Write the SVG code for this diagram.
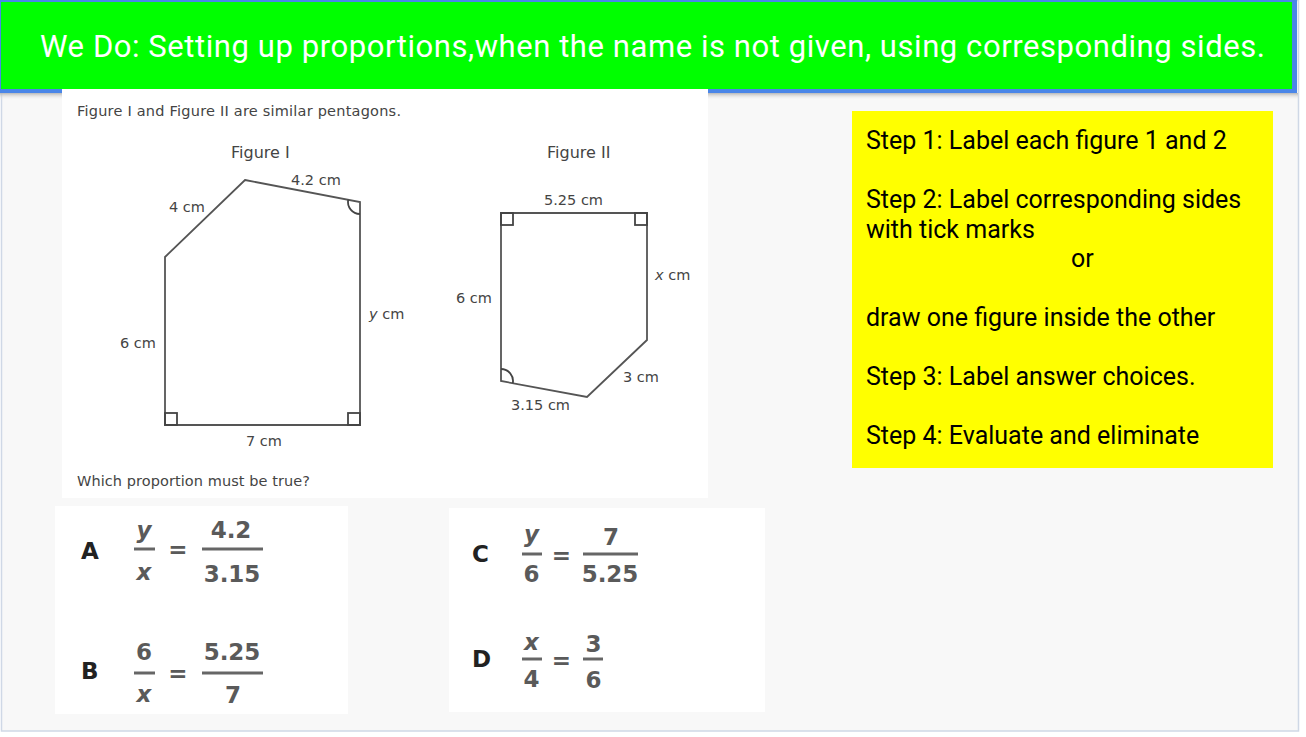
<svg xmlns="http://www.w3.org/2000/svg" width="1306" height="737" viewBox="0 0 1306 737">
  <defs>
    <linearGradient id="shadow" x1="0" y1="0" x2="0" y2="1">
      <stop offset="0" stop-color="#b8b8b8"/>
      <stop offset="1" stop-color="#f8f8f8" stop-opacity="0"/>
    </linearGradient>
    <style>
      .fig { font-family: "DejaVu Sans", Verdana, sans-serif; font-size: 14.5px; fill: #444; }
      .figtitle { font-family: "DejaVu Sans", Verdana, sans-serif; font-size: 16px; fill: #444; }
      .it { font-style: italic; }
      .shape { fill: none; stroke: #555; stroke-width: 1.8; stroke-linejoin: miter; }
      .mark { fill: none; stroke: #444; stroke-width: 1.8; }
      .letter { font-family: "DejaVu Sans", Verdana, sans-serif; font-size: 23px; font-weight: bold; fill: #222; }
      .num { font-family: "DejaVu Sans", Verdana, sans-serif; font-size: 23px; font-weight: bold; fill: #5a5a5a; text-anchor: middle; }
      .bar { stroke: #666; stroke-width: 3; }
      .step { font-family: Roboto, "Liberation Sans", sans-serif; font-size: 25px; fill: #000; }
    </style>
  </defs>

  <!-- slide background -->
  <rect x="0" y="0" width="1306" height="737" fill="#ffffff"/>
  <rect x="1.5" y="0.5" width="1297" height="730.5" fill="#f8f8f8" stroke="#cfd8e6" stroke-width="1.5"/>

  <!-- title banner -->
  <g id="title">
    <rect x="0" y="93" width="1298" height="7" fill="url(#shadow)"/>
    <rect x="0" y="0" width="1297" height="93" fill="#4a86e8"/>
    <rect x="1" y="2" width="1291" height="87" fill="#00ff00"/>
    <text x="40" y="57" font-family="Roboto, 'Liberation Sans', sans-serif" font-size="31" fill="#ffffff" textLength="1225">We Do: Setting up proportions,when the name is not given, using corresponding sides.</text>
  </g>

  <!-- problem figure panel -->
  <g id="figure-panel">
    <rect x="62" y="89" width="646" height="409" fill="#ffffff"/>
    <text class="fig" x="77" y="116" textLength="324">Figure I and Figure II are similar pentagons.</text>
    <text class="figtitle" x="231" y="158">Figure I</text>
    <text class="figtitle" x="547" y="158">Figure II</text>
    <text class="fig" x="77" y="486" textLength="233">Which proportion must be true?</text>
  </g>

  <g id="figure-1">
    <polygon class="shape" points="245,180 360,202 360,425 165,425 165,257"/>
    <rect class="mark" x="165" y="413" width="12" height="12"/>
    <rect class="mark" x="348" y="413" width="12" height="12"/>
    <path class="mark" d="M348.2,199.7 A12,12 0 0 0 360,214"/>
    <text class="fig" x="291" y="185">4.2 cm</text>
    <text class="fig" x="169" y="212">4 cm</text>
    <text class="fig" x="369" y="319"><tspan class="it">y</tspan> cm</text>
    <text class="fig" x="120" y="348">6 cm</text>
    <text class="fig" x="246" y="446">7 cm</text>
  </g>

  <g id="figure-2">
    <polygon class="shape" points="501,213 647,213 647,340 587,397 501,381"/>
    <rect class="mark" x="501" y="213" width="12" height="12"/>
    <rect class="mark" x="635" y="213" width="12" height="12"/>
    <path class="mark" d="M501,369 A12,12 0 0 1 512.8,383.2"/>
    <text class="fig" x="544" y="205">5.25 cm</text>
    <text class="fig" x="655" y="280"><tspan class="it">x</tspan> cm</text>
    <text class="fig" x="456" y="303">6 cm</text>
    <text class="fig" x="623" y="382">3 cm</text>
    <text class="fig" x="511" y="410">3.15 cm</text>
  </g>

  <!-- answer choices A, B -->
  <g id="choices-ab">
    <rect x="55" y="506" width="293" height="208" fill="#ffffff"/>
    <text class="letter" x="81" y="559">A</text>
    <text class="num it" x="144" y="538">y</text>
    <line class="bar" x1="134" y1="549" x2="155" y2="549"/>
    <text class="num it" x="144" y="580">x</text>
    <text class="num" x="178" y="557">=</text>
    <text class="num" x="231" y="538">4.2</text>
    <line class="bar" x1="202" y1="549" x2="263" y2="549"/>
    <text class="num" x="232" y="582">3.15</text>

    <text class="letter" x="81" y="679">B</text>
    <text class="num" x="144" y="660">6</text>
    <line class="bar" x1="134" y1="673" x2="155" y2="673"/>
    <text class="num it" x="144" y="702">x</text>
    <text class="num" x="178" y="681">=</text>
    <text class="num" x="232" y="660">5.25</text>
    <line class="bar" x1="202" y1="673" x2="263" y2="673"/>
    <text class="num" x="233" y="703">7</text>
  </g>

  <!-- answer choices C, D -->
  <g id="choices-cd">
    <rect x="449" y="508" width="316" height="204" fill="#ffffff"/>
    <text class="letter" x="472" y="562">C</text>
    <text class="num it" x="531.5" y="542">y</text>
    <line class="bar" x1="522" y1="554" x2="542" y2="554"/>
    <text class="num" x="531.5" y="582">6</text>
    <text class="num" x="561.5" y="563">=</text>
    <text class="num" x="611" y="545">7</text>
    <line class="bar" x1="583" y1="554" x2="638" y2="554"/>
    <text class="num" x="610" y="582">5.25</text>

    <text class="letter" x="472" y="667">D</text>
    <text class="num it" x="531.5" y="650">x</text>
    <line class="bar" x1="522" y1="659" x2="542" y2="659"/>
    <text class="num" x="531.5" y="687">4</text>
    <text class="num" x="561.5" y="668">=</text>
    <text class="num" x="593.5" y="652">3</text>
    <line class="bar" x1="583" y1="659" x2="603" y2="659"/>
    <text class="num" x="593.5" y="688">6</text>
  </g>

  <!-- steps box -->
  <g id="steps">
    <rect x="852" y="111" width="421" height="357" fill="#ffff00"/>
    <text class="step" x="866" y="149">Step 1: Label each figure 1 and 2</text>
    <text class="step" x="866" y="208">Step 2: Label corresponding sides</text>
    <text class="step" x="866" y="237.5">with tick marks</text>
    <text class="step" x="1071" y="267">or</text>
    <text class="step" x="866" y="326">draw one figure inside the other</text>
    <text class="step" x="866" y="385">Step 3: Label answer choices.</text>
    <text class="step" x="866" y="444">Step 4: Evaluate and eliminate</text>
  </g>
</svg>
